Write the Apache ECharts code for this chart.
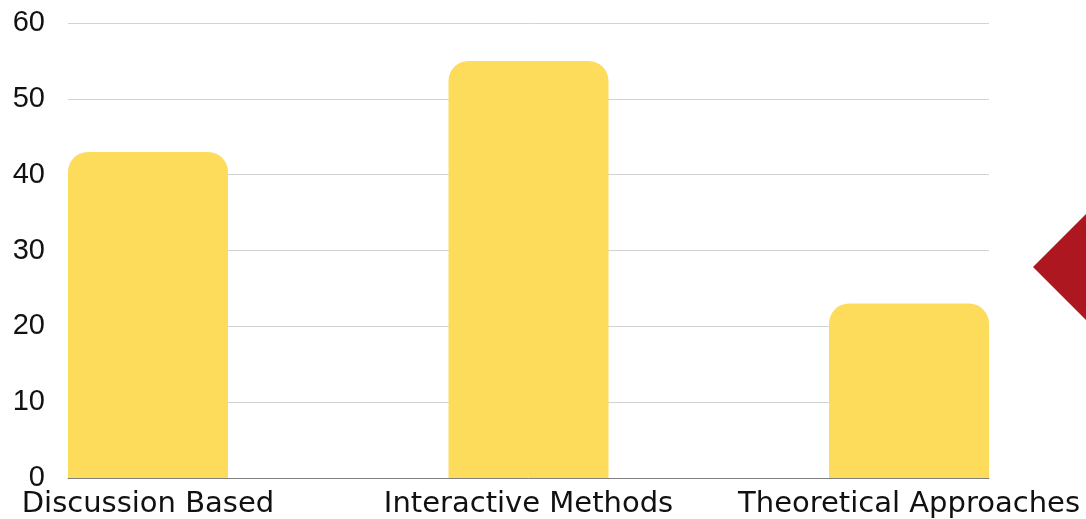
<!DOCTYPE html>
<html>
<head>
<meta charset="utf-8">
<script src="https://cdn.jsdelivr.net/npm/echarts@6/dist/echarts.min.js"></script>
<style>
  html, body { margin: 0; padding: 0; background: #fff; }
  #main { width: 1086px; height: 519px; }
</style>
</head>
<body>
<div id="main"></div>
<script>
// 数据
var categories = ['Discussion Based', 'Interactive Methods', 'Theoretical Approaches'];
var values = [43, 55, 23];
var yTicks = [0, 10, 20, 30, 40, 50, 60];

var chart = echarts.init(document.getElementById('main'));

// 柱子位置用数值轴, 让两端柱子贴齐网格边
var barData = [];
for (var i = 0; i < values.length; i++) {
  barData.push([i, values[i]]);
}

var option = {
  animation: false,
  grid: { left: 68, right: 97, top: 23, bottom: 41 },
  xAxis: {
    type: 'value',
    min: -0.2102,
    max: 2.2102,
    splitLine: { show: false },
    axisTick: { show: false },
    axisLine: { show: true, onZero: false, lineStyle: { color: '#808080', width: 1 } },
    axisLabel: {
      customValues: [0, 1, 2],
      formatter: function (v) { return categories[Math.round(v)]; },
      fontFamily: 'DejaVu Sans',
      fontSize: 29,
      color: '#111',
      margin: 12
    }
  },
  yAxis: {
    type: 'value',
    min: yTicks[0],
    max: yTicks[yTicks.length - 1],
    interval: 10,
    axisLine: { show: false },
    axisTick: { show: false },
    splitLine: { lineStyle: { color: '#d3d3d3', width: 1 } },
    axisLabel: {
      fontFamily: 'Liberation Sans',
      fontSize: 29,
      color: '#111',
      margin: 23
    }
  },
  series: [{
    type: 'bar',
    data: barData,
    barWidth: 160,
    itemStyle: { color: '#FDDC5C', borderRadius: [20, 20, 0, 0] }
  }],
  graphic: [{
    type: 'polygon',
    shape: { points: [[1033, 267], [1140, 160], [1247, 267], [1140, 374]] },
    style: { fill: '#AD1820' }
  }]
};
chart.setOption(option);
</script>
</body>
</html>
